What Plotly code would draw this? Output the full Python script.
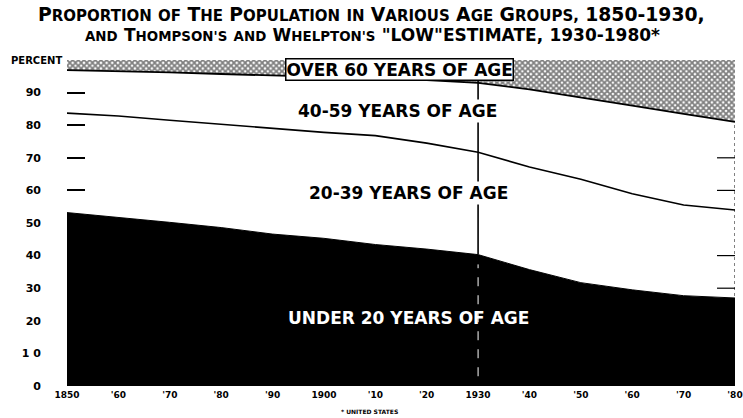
import plotly.graph_objects as go

years = [1850, 1860, 1870, 1880, 1890, 1900, 1910, 1920, 1930, 1940, 1950, 1960, 1970, 1980]
under_20 = [53.2, 51.8, 50.2, 48.6, 46.6, 45.3, 43.4, 42.0, 40.3, 35.7, 31.7, 29.5, 27.7, 27.0]
age_20_39 = [30.5, 31.0, 31.3, 31.7, 32.3, 32.5, 33.4, 32.5, 31.4, 31.5, 31.7, 29.5, 27.8, 27.0]
age_40_59 = [13.2, 13.8, 14.7, 15.4, 16.4, 17.1, 17.6, 19.3, 21.3, 23.8, 25.2, 27.0, 28.0, 27.0]
over_60 = [3.1, 3.4, 3.8, 4.3, 4.7, 5.1, 5.6, 6.2, 7.0, 9.0, 11.4, 14.0, 16.5, 19.0]

x_tick_vals = years
x_tick_text = ["1850", "'60", "'70", "'80", "'90", "1900", "'10", "'20", "1930",
               "'40", "'50", "'60", "'70", "'80"]
y_tick_vals = [0, 10, 20, 30, 40, 50, 60, 70, 80, 90]
y_tick_text = ["0", "1 0", "20", "30", "40", "50", "60", "70", "80", "90"]

split_year = 1930
i_split = years.index(split_year)
under_20_at_split = under_20[i_split]
under_60_at_split = under_20_at_split + age_20_39[i_split] + age_40_59[i_split]

fig = go.Figure()
fig.add_trace(go.Scatter(x=years, y=under_20, stackgroup="a", mode="lines",
                         line=dict(color="black", width=1), fillcolor="black",
                         name="Under 20"))
fig.add_trace(go.Scatter(x=years, y=age_20_39, stackgroup="a", mode="lines",
                         line=dict(color="black", width=1.6), fillcolor="white",
                         name="20-39"))
fig.add_trace(go.Scatter(x=years, y=age_40_59, stackgroup="a", mode="lines",
                         line=dict(color="black", width=1.8), fillcolor="white",
                         name="40-59"))
fig.add_trace(go.Scatter(x=years, y=over_60, stackgroup="a", mode="lines",
                         line=dict(color="black", width=0),
                         fillpattern=dict(shape="x", size=4, solidity=0.7,
                                          fgcolor="black", bgcolor="white"),
                         name="Over 60"))

# vertical line marking the start of the estimate
fig.add_shape(type="line", x0=split_year, x1=split_year, y0=under_20_at_split, y1=under_60_at_split + 1,
              line=dict(color="black", width=1.6), layer="above")
fig.add_shape(type="line", x0=split_year, x1=split_year, y0=3, y1=under_20_at_split - 3,
              line=dict(color="white", width=1, dash="dash"), layer="above")
# right edge dotted line
fig.add_shape(type="line", x0=years[-1], x1=years[-1], y0=0, y1=under_20[-1] + age_20_39[-1] + age_40_59[-1],
              line=dict(color="black", width=1, dash="dot"), layer="above")
for v in [30, 40, 60, 70]:
    fig.add_shape(type="line", xref="x", x0=1976.5, x1=years[-1], y0=v, y1=v,
                  line=dict(color="white" if v < under_20[-1] else "black", width=1.2), layer="above")

lab_font = dict(family="DejaVu Sans", size=17, color="black")
fig.add_annotation(x=1914.8, y=97.2, text="<b>OVER 60 YEARS OF AGE</b>", showarrow=False,
                   font=lab_font, bgcolor="white", bordercolor="black", borderwidth=1.5, borderpad=0)
fig.add_annotation(x=1914.4, y=84.5, text="<b>40-59 YEARS OF AGE</b>", showarrow=False,
                   font=lab_font, bgcolor="white", borderpad=1)
fig.add_annotation(x=1916.4, y=59.3, text="<b>20-39 YEARS OF AGE</b>", showarrow=False,
                   font=lab_font, bgcolor="white", borderpad=1)
fig.add_annotation(x=1916.4, y=20.9, text="<b>UNDER 20 YEARS OF AGE</b>", showarrow=False,
                   font=dict(family="DejaVu Sans", size=17, color="white"))

fig.add_annotation(xref="paper", x=0, xanchor="right", xshift=-3, y=100, yanchor="middle",
                   text="<b>PERCENT</b>", showarrow=False,
                   font=dict(family="DejaVu Sans", size=10, color="black"))
fig.add_annotation(xref="x", x=1903, xanchor="left", yref="paper", y=0, yanchor="top", yshift=-20,
                   text="<b>* UNITED STATES</b>", showarrow=False,
                   font=dict(family="DejaVu Sans", size=6, color="black"))

SMALL_WORDS = {"OF", "IN", "AND"}

def sc(s, big=18, small=14):
    out = []
    for word in s.split(" "):
        if word in SMALL_WORDS:
            out.append("<span style='font-size:%spx'>%s</span>" % (small, word))
        elif word and word[0].isalpha():
            out.append("<span style='font-size:%spx'>%s</span><span style='font-size:%spx'>%s</span>"
                       % (big, word[0], small, word[1:]))
        else:
            out.append("<span style='font-size:%spx'>%s</span>" % (big, word))
    return " ".join(out)

title_font = dict(family="DejaVu Sans", size=18, color="black")
fig.add_annotation(xref="paper", yref="paper", x=0.5, xshift=-30, y=1, yshift=46, yanchor="middle",
                   text="<b>" + sc("PROPORTION OF THE POPULATION IN VARIOUS AGE GROUPS, 1850-1930,", 18.8, 15) + "</b>",
                   showarrow=False, font=title_font)
fig.add_annotation(xref="paper", yref="paper", x=0.5, xshift=-29, y=1, yshift=26, yanchor="middle",
                   text="<b>" + sc("AND THOMPSON'S AND WHELPTON'S \"LOW\"ESTIMATE, 1930-1980*", 17, 13.4) + "</b>",
                   showarrow=False, font=title_font)

fig.update_layout(
    width=743, height=418,
    margin=dict(l=67, r=8, t=60, b=32, autoexpand=False),
    paper_bgcolor="white", plot_bgcolor="white",
    showlegend=False,
    xaxis=dict(range=[years[0], years[-1]], tickvals=x_tick_vals,
               ticktext=["<b>%s</b>" % t for t in x_tick_text],
               showgrid=False, zeroline=False, showline=False, ticks="", automargin=False,
               tickfont=dict(family="DejaVu Sans", size=9, color="black"), ticklabelstandoff=2),
    yaxis=dict(range=[0, 100], tickvals=y_tick_vals, ticktext=["<b>%s</b>" % t for t in y_tick_text],
               showgrid=False, zeroline=False, showline=False, ticks="inside", ticklen=18,
               tickwidth=1.5, tickcolor="black", automargin=False,
               tickfont=dict(family="DejaVu Sans", size=11, color="black"), ticklabelstandoff=25),
)

fig.write_html("out.html", config={"displayModeBar": False},
               post_script="document.body.style.margin='0px';")
